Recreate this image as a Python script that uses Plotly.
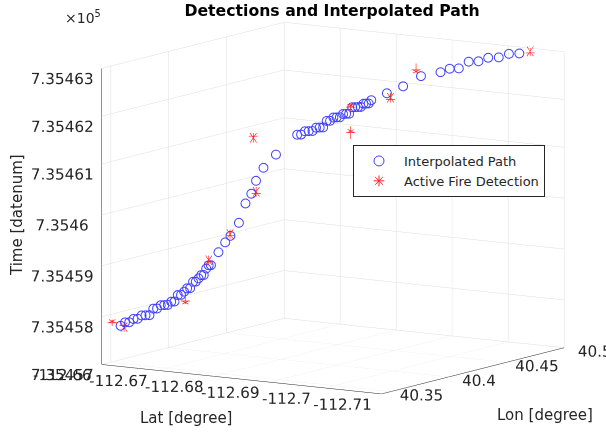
import plotly.graph_objects as go

# Interpolated fire-front path (lat, lon, time as MATLAB datenum)
path_lat = [-112.66202, -112.66249, -112.66295, -112.66341, -112.66385, -112.66429, -112.66472,
            -112.66514, -112.66555, -112.66596, -112.66635, -112.66674, -112.66712, -112.66749,
            -112.66785, -112.66820, -112.66855, -112.66889, -112.66921, -112.66953, -112.66985,
            -112.67015, -112.67044, -112.67073, -112.67101, -112.67128, -112.67154, -112.67179,
            -112.67260, -112.67333, -112.67389, -112.67481, -112.67552, -112.67615, -112.67666,
            -112.67747, -112.67882,
            -112.68111, -112.68153, -112.68195, -112.68235, -112.68276, -112.68315, -112.68354,
            -112.68392, -112.68430, -112.68466, -112.68503, -112.68538, -112.68573, -112.68607,
            -112.68641, -112.68673, -112.68705, -112.68737, -112.68768, -112.68798, -112.68827,
            -112.68856, -112.68884, -112.68912,
            -112.69081, -112.69256, -112.69450, -112.69661, -112.69760, -112.69859, -112.69965,
            -112.70071, -112.70177, -112.70291, -112.70400, -112.70513]
path_lon = [40.34838, 40.34987, 40.35133, 40.35277, 40.35418, 40.35556, 40.35692, 40.35824,
            40.35955, 40.36083, 40.36208, 40.36330, 40.36449, 40.36567, 40.36681, 40.36792,
            40.36902, 40.37008, 40.37112, 40.37213, 40.37311, 40.37407, 40.37500, 40.37590,
            40.37678, 40.37763, 40.37845, 40.37925,
            40.38181, 40.38413, 40.38590, 40.38881, 40.39103, 40.39304, 40.39463, 40.39720,
            40.40146,
            40.40870, 40.41003, 40.41135, 40.41264, 40.41391, 40.41516, 40.41638, 40.41759,
            40.41878, 40.41994, 40.42108, 40.42221, 40.42330, 40.42439, 40.42544, 40.42648,
            40.42749, 40.42849, 40.42946, 40.43041, 40.43134, 40.43225, 40.43314, 40.43400,
            40.43937, 40.44488, 40.45101, 40.45770, 40.46081, 40.46393, 40.46729, 40.47065,
            40.47398, 40.47758, 40.48105, 40.48462]
path_time = [735457.771, 735457.813, 735457.853, 735457.892, 735457.930, 735457.966, 735458.001,
             735458.037, 735458.073, 735458.108, 735458.143, 735458.177, 735458.216, 735458.257,
             735458.297, 735458.336, 735458.374, 735458.421, 735458.471, 735458.520, 735458.567,
             735458.614, 735458.676, 735458.736, 735458.794, 735458.852, 735458.913, 735458.973,
             735459.166, 735459.343, 735459.526, 735459.808, 735460.097, 735460.382, 735460.647,
             735460.907, 735461.155,
             735461.428, 735461.463, 735461.498, 735461.532, 735461.565, 735461.598, 735461.631,
             735461.662, 735461.694, 735461.725, 735461.755, 735461.784, 735461.814, 735461.842,
             735461.870, 735461.897, 735461.924, 735461.950, 735461.976, 735462.001, 735462.026,
             735462.050, 735462.073, 735462.096,
             735462.234, 735462.381, 735462.510, 735462.633, 735462.688, 735462.730, 735462.769,
             735462.817, 735462.856, 735462.895, 735462.937, 735462.982]

# Active fire detections
det_lat = [-112.66114, -112.66242, -112.66906, -112.67158, -112.67388, -112.67671,
           -112.67640, -112.68693, -112.68693, -112.69123, -112.69400, -112.70634]
det_lon = [40.3456, 40.3497, 40.3706, 40.3786, 40.3859, 40.3948,
           40.3938, 40.4271, 40.4271, 40.4407, 40.4494, 40.4884]
det_time = [735457.872, 735457.748, 735458.235, 735459.025, 735459.526, 735460.379,
            735461.471, 735461.989, 735461.496, 735462.112, 735462.685, 735462.947]

lat_ticks = [-112.66, -112.67, -112.68, -112.69, -112.70, -112.71]
lat_labels = ["-112.66", "-112.67", "-112.68", "-112.69", "-112.7", "-112.71"]
lon_ticks = [40.35, 40.40, 40.45, 40.50]
lon_labels = ["40.35", "40.4", "40.45", "40.5"]
time_ticks = [735457, 735458, 735459, 735460, 735461, 735462, 735463]
time_labels = ["7.35457", "7.35458", "7.35459", "7.3546", "7.35461", "7.35462", "7.35463"]

FONT = "DejaVu Sans"
AXC = "#262626"
GRID = "#dedede"
W, H = 606, 432
BOTTOM = 19

LAT_RANGE = [-112.66, -112.71]
LON_RANGE = [40.342, 40.5]
TIME_RANGE = [735457, 735463]

# Screen-aligned step vectors (data units per pixel) for the viewing direction used
# below; used to draw asterisk markers as short line spokes.
H_STEP = (-1.28e-4, 2.578e-4, 0.0)   # one pixel to the right
V_STEP = (0.0, 0.0, 0.02027)         # one pixel up
STAR_R = 4.5


def asterisk_segments(xs, ys, zs, r=STAR_R):
    sx, sy, sz = [], [], []
    dirs = [(1, 0), (0, 1), (0.7071, 0.7071), (0.7071, -0.7071)]
    for x0, y0, z0 in zip(xs, ys, zs):
        for a, b in dirs:
            dx = r * (a * H_STEP[0] + b * V_STEP[0])
            dy = r * (a * H_STEP[1] + b * V_STEP[1])
            dz = r * (a * H_STEP[2] + b * V_STEP[2])
            sx += [x0 - dx, x0 + dx, None]
            sy += [y0 - dy, y0 + dy, None]
            sz += [z0 - dz, z0 + dz, None]
    return sx, sy, sz


fig = go.Figure()

fig.add_trace(go.Scatter3d(
    x=path_lat, y=path_lon, z=path_time, mode="markers", showlegend=False,
    marker=dict(symbol="circle-open", size=5.6, color="#3f3fff"),
))
ax_, ay_, az_ = asterisk_segments(det_lat, det_lon, det_time)
fig.add_trace(go.Scatter3d(
    x=ax_, y=ay_, z=az_, mode="lines", showlegend=False, connectgaps=False,
    line=dict(color="#ff2020", width=1.3),
))

# legend entries
fig.add_trace(go.Scatter(x=[None], y=[None], mode="markers", name="Interpolated Path",
                         marker=dict(symbol="circle-open", size=10, color="#3f3fff",
                                     line=dict(width=1, color="#3f3fff"))))
fig.add_trace(go.Scatter(x=[None], y=[None], mode="markers", name="Active Fire Detection",
                         marker=dict(symbol="asterisk-open", size=9, color="#ff2020",
                                     line=dict(width=1, color="#ff2020"))))


def axis(rng, tv, tt, pad):
    # tick marks are hidden; their length only spaces the labels from the box
    return dict(
        title=dict(text=""),
        range=rng, autorange=False, tickvals=tv, ticktext=tt, tickangle=0,
        tickfont=dict(family=FONT, size=13.5, color=AXC),
        showbackground=False, showgrid=True, gridcolor=GRID, gridwidth=1,
        showline=True, linecolor=AXC, linewidth=1, zeroline=False,
        ticks="outside", ticklen=pad, tickcolor="rgba(0,0,0,0)", showspikes=False,
    )


def px(x, y):
    return x / W, 1 - y / (H - BOTTOM)


def label(text, x, y, angle=0):
    xp, yp = px(x, y)
    return dict(text=text, xref="paper", yref="paper", x=xp, y=yp,
                xanchor="center", yanchor="middle", textangle=angle, showarrow=False,
                font=dict(family=FONT, size=15, color=AXC))


exp_x, exp_y = px(63, 17)
leg_x, leg_y = px(353, 145)

fig.update_layout(
    width=W, height=H,
    margin=dict(l=0, r=0, t=0, b=BOTTOM),
    paper_bgcolor="white", plot_bgcolor="rgba(0,0,0,0)",
    font=dict(family=FONT, size=14, color=AXC),
    title=dict(text="<b>Detections and Interpolated Path</b>", x=332 / W, y=1 - 11 / H,
               xref="container", yref="container", xanchor="center", yanchor="middle",
               font=dict(family=FONT, size=15.7, color="#000000")),
    xaxis=dict(visible=False), yaxis=dict(visible=False),
    scene=dict(
        xaxis=axis(LAT_RANGE, lat_ticks, lat_labels, 18),
        yaxis=axis(LON_RANGE, lon_ticks, lon_labels, 55),
        zaxis=axis(TIME_RANGE, time_ticks, time_labels, 14),
        aspectmode="manual", aspectratio=dict(x=1.6127, y=1.6317, z=1.4737),
        camera=dict(eye=dict(x=0.6908, y=-1.3388, z=0.2478), up=dict(x=0, y=0, z=1),
                    center=dict(x=-0.1215, y=-0.0783, z=0),
                    projection=dict(type="orthographic")),
    ),
    legend=dict(x=leg_x, y=leg_y, xanchor="left", yanchor="top",
                bgcolor="white", bordercolor=AXC, borderwidth=1, itemwidth=40,
                font=dict(family=FONT, size=13, color=AXC)),
    annotations=[
        dict(text="×10<sup>5</sup>", xref="paper", yref="paper", x=exp_x, y=exp_y,
             xanchor="left", yanchor="middle", showarrow=False,
             font=dict(family=FONT, size=14, color=AXC)),
        label("Time [datenum]", 17, 215, -90),
        label("Lat [degree]", 185.5, 418),
        label("Lon [degree]", 545, 415),
    ],
)

fig.write_html("out.html")
